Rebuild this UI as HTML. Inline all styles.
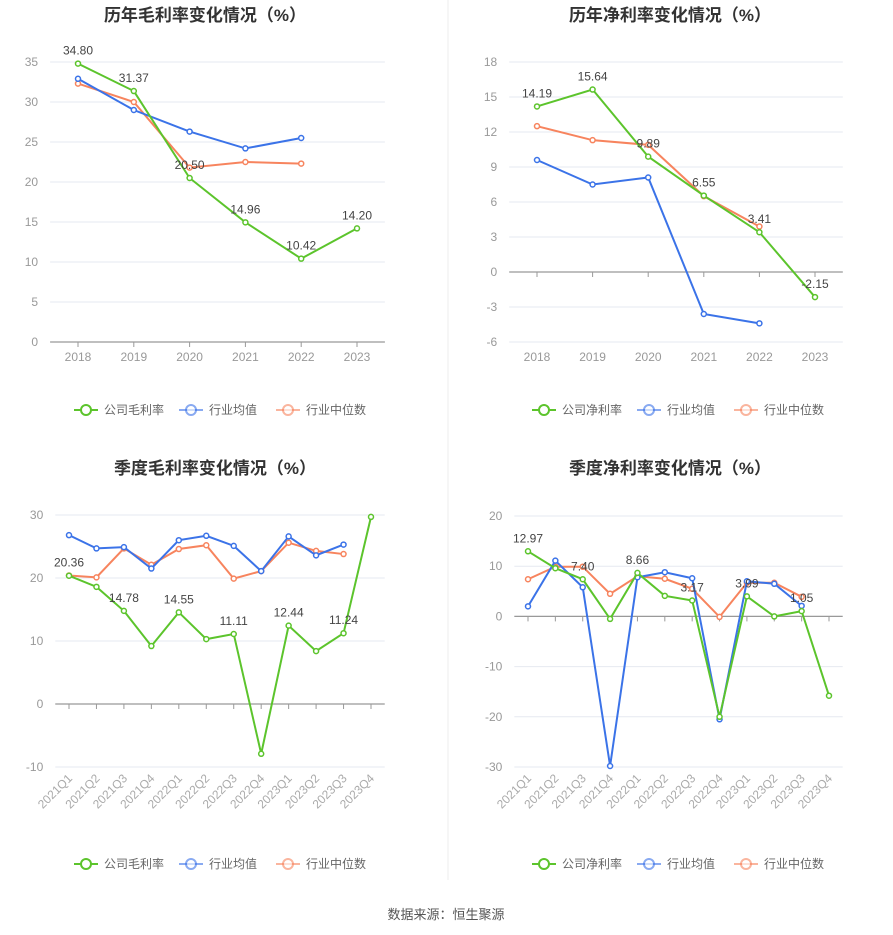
<!DOCTYPE html>
<html><head><meta charset="utf-8"><style>
body{margin:0;background:#fff;width:893px;height:935px;overflow:hidden;font-family:"Liberation Sans","Noto Sans CJK SC",sans-serif;}
svg{position:absolute;left:0;top:0}
</style></head><body>
<svg id="c" width="893" height="935"></svg>
<script>
const years=['2018','2019','2020','2021','2022','2023'];
const quarters=['2021Q1','2021Q2','2021Q3','2021Q4','2022Q1','2022Q2','2022Q3','2022Q4','2023Q1','2023Q2','2023Q3','2023Q4'];
const grossCompany=[34.80,31.37,20.50,14.96,10.42,14.20];
const grossAvg=[32.9,29.0,26.3,24.2,25.5];
const grossMedian=[32.3,30.0,21.8,22.5,22.3];
const netCompany=[14.19,15.64,9.89,6.55,3.41,-2.15];
const netAvg=[9.6,7.5,8.1,-3.6,-4.4];
const netMedian=[12.5,11.3,10.9,6.5,3.9];
const qGrossCompany=[20.36,18.6,14.78,9.2,14.55,10.3,11.11,-7.9,12.44,8.4,11.24,29.7];
const qGrossAvg=[26.8,24.7,24.9,21.5,26.0,26.7,25.1,21.1,26.6,23.6,25.3];
const qGrossMedian=[20.4,20.1,24.7,22.1,24.6,25.2,19.9,21.1,25.6,24.3,23.8];
const qNetCompany=[12.97,9.6,7.40,-0.5,8.66,4.1,3.17,-20.0,3.99,0.0,1.05,-15.8];
const qNetAvg=[2.0,11.1,5.8,-29.8,7.8,8.8,7.6,-20.5,7.0,6.5,2.1];
const qNetMedian=[7.4,9.9,9.9,4.5,8.0,7.5,5.5,-0.1,6.7,6.7,3.9];
const grossTicks=[0,5,10,15,20,25,30,35];
const netTicks=[-6,-3,0,3,6,9,12,15,18];
const qGrossTicks=[-10,0,10,20,30];
const qNetTicks=[-30,-20,-10,0,10,20];

const NS='http://www.w3.org/2000/svg';
const svg=document.getElementById('c');
function el(t,a,p){const e=document.createElementNS(NS,t);for(const k in a)e.setAttribute(k,a[k]);(p||svg).appendChild(e);return e;}
function txt(s,a,p){const e=el('text',a,p);e.textContent=s;return e;}
const GREEN='#5cc42c',BLUE='#3b73e8',ORANGE='#f7845e';

function chart(o){
  const g=el('g',{});
  
  
  const n=o.cats.length;
  const xs=i=>o.x0+(o.x1-o.x0)*i/(n-1);
  const ymin=o.ticks[0],ymax=o.ticks[o.ticks.length-1];
  const ys=v=>o.yb-(v-ymin)/(ymax-ymin)*(o.yb-o.yt);
  const t=txt(o.title,{x:o.tx,y:o.ty,'text-anchor':'middle','font-size':17,'font-weight':'bold',fill:'#333'},g);
  
  const step=(o.x1-o.x0)/(n-1);
  const L=o.x0-step/2, R=o.x1+step/2;
  o.ticks.forEach(v=>{
    const y=ys(v);
    el('line',{x1:L,x2:R,y1:y,y2:y,stroke:'#e6e9f0','stroke-width':1},g);
    const l=txt(String(v),{x:L-12,y:y+4,'text-anchor':'end','font-size':12,fill:'#999'},g);
    
  });
  const ax=ys(o.axisAt);
  el('line',{x1:L,x2:R,y1:ax,y2:ax,stroke:'#999','stroke-width':1.2},g);
  o.cats.forEach((c,i)=>{
    el('line',{x1:xs(i),x2:xs(i),y1:ax,y2:ax+5,stroke:'#999'},g);
    let l;
    if(o.rot){const by=o.yb+12;l=txt(c,{x:xs(i)+4,y:by,'text-anchor':'end','font-size':12,fill:'#aaa',transform:`rotate(-45 ${xs(i)+4} ${by})`},g);}
    else l=txt(c,{x:xs(i),y:o.yb+19,'text-anchor':'middle','font-size':12,fill:'#999'},g);
    
  });
  [[o.median,ORANGE,'median-line'],[o.avg,BLUE,'average-line'],[o.comp,GREEN,'company-line']].forEach(([d,c,nm])=>{
    const p=el('polyline',{points:d.map((v,i)=>xs(i)+','+ys(v)).join(' '),fill:'none',stroke:c,'stroke-width':2},g);
    
    d.forEach((v,i)=>{const m=el('circle',{cx:xs(i),cy:ys(v),r:2.5,fill:'#fff',stroke:c,'stroke-width':1.5},g);
      });
  });
  o.comp.forEach((v,i)=>{
    if(o.every&&i%2)return;
    const l=txt(v.toFixed(2),{x:xs(i),y:ys(v)-9,'text-anchor':'middle','font-size':12,fill:'#444'},g);
    
  });
  const ly=o.ly,lx=o.lx;
  [[o.leg,GREEN,0],['行业均值',BLUE,105],['行业中位数',ORANGE,202]].forEach(([s,c,dx])=>{
    const lg=el('g',{},g);
    el('line',{x1:lx+dx,x2:lx+dx+24,y1:ly,y2:ly,stroke:c,'stroke-width':2,opacity:c===GREEN?1:0.6},lg);
    el('circle',{cx:lx+dx+12,cy:ly,r:5,fill:'#fff',stroke:c,'stroke-width':2,opacity:c===GREEN?1:0.6},lg);
    txt(s,{x:lx+dx+30,y:ly+4,'font-size':12,fill:'#666'},lg);
  });
}
chart({name:'annual-gross-margin-chart',title:'历年毛利率变化情况（%）',tx:205,ty:21,cats:years,x0:78,x1:357,yt:62,yb:342,ticks:grossTicks,axisAt:0,comp:grossCompany,avg:grossAvg,median:grossMedian,leg:'公司毛利率',lx:74,ly:410});
chart({name:'annual-net-margin-chart',title:'历年净利率变化情况（%）',tx:670,ty:21,cats:years,x0:537,x1:815,yt:62,yb:342,ticks:netTicks,axisAt:0,comp:netCompany,avg:netAvg,median:netMedian,leg:'公司净利率',lx:532,ly:410});
chart({name:'quarterly-gross-margin-chart',title:'季度毛利率变化情况（%）',tx:215,ty:474,cats:quarters,x0:69,x1:371,yt:515,yb:767,ticks:qGrossTicks,axisAt:0,comp:qGrossCompany,avg:qGrossAvg,median:qGrossMedian,leg:'公司毛利率',lx:74,ly:864,rot:true,every:true});
chart({name:'quarterly-net-margin-chart',title:'季度净利率变化情况（%）',tx:670,ty:474,cats:quarters,x0:528,x1:829,yt:516,yb:767,ticks:qNetTicks,axisAt:0,comp:qNetCompany,avg:qNetAvg,median:qNetMedian,leg:'公司净利率',lx:532,ly:864,rot:true,every:true});
const d=el('line',{x1:448,x2:448,y1:0,y2:880,stroke:'#eee'});

const f=txt('数据来源：恒生聚源',{x:446,y:919,'text-anchor':'middle','font-size':13,fill:'#555'});

</script>
</body></html>
